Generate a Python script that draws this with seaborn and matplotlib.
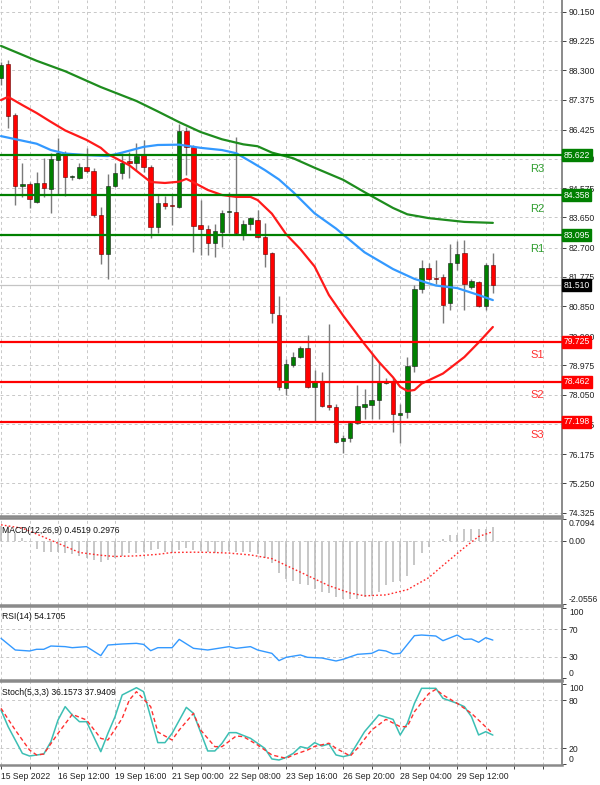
import matplotlib
matplotlib.use("Agg")
import matplotlib.pyplot as plt
import seaborn as sns
import pandas as pd
import numpy as np

# ---------------- data ----------------
OPEN = [88.06, 88.50, 86.89, 84.65, 84.71, 84.14, 84.74, 84.55, 85.47, 85.62,
        84.93, 84.90, 85.25, 85.12, 83.73, 82.50, 84.65, 85.06, 85.43, 85.37,
        85.62, 85.25, 83.35, 84.11, 84.01, 83.98, 86.38, 85.88, 83.41, 83.29,
        82.84, 83.19, 83.82, 83.82, 83.10, 83.45, 83.57, 83.03, 82.53, 80.57,
        78.27, 78.99, 79.24, 79.53, 78.30, 78.45, 77.73, 77.66, 76.59, 76.69,
        77.16, 77.66, 77.73, 77.89, 78.42, 78.49, 77.41, 77.51, 78.96, 81.39,
        82.06, 81.74, 81.77, 80.95, 82.21, 82.53, 81.46, 81.61, 80.85, 82.15]
HIGH = [88.56, 88.62, 86.95, 85.37, 84.77, 85.09, 85.53, 85.69, 86.16, 85.75,
        84.99, 85.37, 85.85, 85.21, 83.98, 85.02, 85.37, 85.69, 85.72, 86.00,
        86.10, 85.31, 84.36, 84.33, 84.36, 86.60, 86.51, 85.94, 84.20, 83.41,
        83.44, 83.89, 84.46, 86.20, 83.57, 83.67, 83.89, 83.48, 82.56, 81.17,
        79.18, 79.40, 79.59, 79.94, 78.83, 78.77, 80.29, 77.76, 76.78, 77.19,
        78.36, 78.23, 79.37, 79.09, 78.58, 78.58, 77.76, 79.24, 81.52, 82.31,
        82.21, 82.31, 81.87, 82.81, 82.91, 82.94, 81.71, 81.64, 82.21, 82.53]
LOW = [87.84, 86.48, 84.04, 84.30, 83.95, 84.11, 84.30, 83.79, 84.36, 84.33,
       84.83, 84.87, 85.06, 83.67, 82.18, 81.71, 84.61, 84.87, 84.90, 85.15,
       85.09, 83.00, 83.16, 83.92, 83.41, 83.95, 84.99, 82.56, 82.47, 82.47,
       82.40, 82.72, 83.16, 83.10, 82.94, 83.26, 83.00, 82.09, 80.32, 78.20,
       78.04, 78.93, 79.21, 78.27, 77.22, 77.66, 77.57, 76.53, 76.21, 76.56,
       77.13, 77.29, 77.29, 77.29, 78.39, 76.88, 76.53, 77.32, 78.77, 81.27,
       81.68, 81.55, 80.32, 80.73, 81.99, 80.73, 81.39, 80.82, 80.73, 81.27]
CLOSE = [88.47, 86.86, 84.65, 84.71, 84.23, 84.74, 84.58, 85.50, 85.69, 84.93,
         84.96, 85.25, 85.12, 83.73, 82.50, 84.65, 85.06, 85.37, 85.37, 85.59,
         85.25, 83.35, 84.11, 84.01, 84.00, 86.38, 85.88, 83.38, 83.29, 82.84,
         83.22, 83.79, 83.86, 83.16, 83.45, 83.63, 83.03, 82.50, 80.63, 78.30,
         79.02, 79.24, 79.53, 78.30, 78.45, 77.70, 77.66, 76.56, 76.69, 77.16,
         77.70, 77.76, 77.89, 78.45, 78.49, 77.44, 77.47, 78.96, 81.39, 82.06,
         81.71, 81.71, 80.89, 82.21, 82.50, 81.55, 81.64, 80.85, 82.15, 81.51]

MA_RED_IDX = [0, 1, 3, 5, 7, 9, 12, 14, 15, 18, 21, 23, 25, 26, 27, 29, 31, 33, 35, 36,
              38, 40, 42, 44, 46, 48, 51, 53, 55, 56, 57, 58, 59, 62, 65, 67, 69]
MA_RED = [87.36, 87.46, 87.20, 86.95, 86.67, 86.40, 86.10, 85.85, 85.65, 85.30, 84.77,
          84.74, 84.78, 84.87, 84.76, 84.52, 84.36, 84.30, 84.30, 84.20, 83.77, 83.12,
          82.65, 82.10, 81.20, 80.55, 79.65, 79.09, 78.60, 78.30, 78.17, 78.20, 78.40,
          78.72, 79.24, 79.70, 80.19]
MA_BLUE_IDX = [0, 5, 7, 9, 12, 15, 17, 20, 22, 25, 28, 31, 33, 35, 37, 39, 41, 44, 47,
               51, 55, 58, 61, 64, 67, 69]
MA_BLUE = [86.22, 85.98, 85.78, 85.67, 85.62, 85.59, 85.70, 85.88, 85.94, 85.95, 85.85,
           85.78, 85.68, 85.42, 85.15, 84.85, 84.45, 83.78, 83.30, 82.55, 82.02, 81.71,
           81.50, 81.42, 81.20, 81.04]
MA_GREEN_IDX = [0, 5, 9, 14, 19, 22, 25, 28, 31, 34, 36, 38, 41, 44, 48, 51, 53, 55,
                57, 60, 65, 69]
MA_GREEN = [89.07, 88.60, 88.27, 87.77, 87.33, 87.00, 86.66, 86.35, 86.12, 85.96, 85.90,
            85.70, 85.52, 85.22, 84.84, 84.45, 84.20, 83.95, 83.75, 83.63, 83.51, 83.48]

LEVEL_NAMES = ["R3", "R2", "R1", "S1", "S2", "S3"]
LEVELS = [85.622, 84.358, 83.095, 79.725, 78.462, 77.198]
LAST_PRICE = 81.510

PRICE_TICKS = [90.150, 89.225, 88.300, 87.375, 86.425, 85.500, 84.575, 83.650, 82.700,
               81.775, 80.850, 79.900, 78.975, 78.050, 77.125, 76.175, 75.250, 74.325]

MACD_HIST = [0.47, 0.47, 0.25, 0.10, -0.05, -0.27, -0.37, -0.38, -0.35, -0.40,
             -0.43, -0.50, -0.55, -0.62, -0.69, -0.62, -0.57, -0.48, -0.40, -0.40,
             -0.35, -0.31, -0.28, -0.35, -0.40, -0.31, -0.22, -0.30, -0.33, -0.38,
             -0.40, -0.38, -0.33, -0.35, -0.37, -0.38, -0.42, -0.55, -0.72, -1.05,
             -1.23, -1.32, -1.40, -1.45, -1.58, -1.65, -1.70, -1.83, -1.90, -1.88,
             -1.90, -1.83, -1.78, -1.65, -1.45, -1.35, -1.30, -1.15, -0.80, -0.40,
             -0.20, 0.00, 0.05, 0.18, 0.20, 0.40, 0.40, 0.40, 0.40, 0.4519]
MACD_SIG_IDX = [0, 3, 5, 8, 11, 14, 16, 19, 22, 24, 27, 30, 32, 35, 38, 40, 43, 46, 49,
                51, 54, 57, 60, 62, 65, 67, 69]
MACD_SIG = [0.52, 0.41, 0.22, -0.08, -0.38, -0.47, -0.51, -0.49, -0.44, -0.38, -0.37,
            -0.38, -0.40, -0.46, -0.58, -0.80, -1.13, -1.46, -1.70, -1.79, -1.76, -1.59,
            -1.20, -0.80, -0.22, 0.14, 0.2976]
MACD_TICKS = [0.7094, 0.00, -2.0556]
MACD_TICKLABELS = ["0.7094", "0.00", "-2.0556"]
MACD_TITLE = "MACD(12,26,9) 0.4519 0.2976"

RSI_IDX = [0, 2, 4, 5, 6, 7, 9, 10, 12, 14, 15, 17, 19, 20, 21, 22, 24, 25, 27, 29, 32,
           33, 35, 36, 38, 39, 40, 42, 43, 45, 47, 48, 50, 52, 53, 54, 55, 56, 58, 59,
           61, 62, 64, 65, 66, 67, 68, 69]
RSI = [56.7, 40.0, 38.6, 41.0, 41.0, 45.7, 44.8, 43.3, 44.8, 31.9, 47.1, 48.6, 49.5,
       48.0, 39.0, 43.3, 43.3, 55.2, 42.4, 40.0, 44.8, 42.4, 44.8, 40.0, 35.2, 24.8,
       29.5, 32.9, 29.5, 28.6, 24.3, 26.7, 33.8, 35.2, 40.0, 38.6, 34.3, 35.2, 60.5,
       61.4, 60.0, 53.3, 61.4, 55.2, 55.7, 51.0, 57.6, 54.1705]
RSI_TITLE = "RSI(14) 54.1705"

STO_K_IDX = [0, 1, 3, 4, 6, 7, 8, 9, 10, 11, 12, 14, 15, 16, 17, 19, 20, 22, 23, 24, 26,
             27, 29, 30, 31, 32, 33, 35, 37, 38, 39, 40, 41, 42, 43, 44, 45, 46, 47, 48,
             49, 51, 53, 55, 56, 57, 58, 59, 61, 62, 64, 65, 66, 67, 68, 69]
STO_K = [67.5, 46.7, 13.3, 10.0, 12.5, 27.9, 55.0, 71.7, 61.2, 52.9, 52.9, 15.4, 38.3,
         59.2, 86.3, 95.4, 90.4, 26.7, 26.7, 38.3, 70.8, 63.3, 16.3, 16.3, 25.8, 39.2,
         39.2, 32.1, 19.6, 6.3, 5.0, 8.3, 13.3, 21.7, 19.6, 26.7, 22.5, 25.0, 11.3, 9.2,
         11.3, 40.4, 61.3, 55.8, 36.3, 50.8, 75.8, 94.6, 94.6, 82.1, 75.8, 71.7, 59.2,
         36.3, 40.4, 36.1573]
STO_D_IDX = [0, 2, 4, 5, 6, 8, 10, 12, 14, 15, 17, 18, 19, 21, 22, 24, 25, 27, 28, 30,
             31, 33, 34, 36, 38, 40, 41, 43, 44, 45, 46, 47, 49, 50, 52, 54, 56, 57, 58,
             60, 61, 62, 64, 66, 69]
STO_D = [69.6, 42.5, 17.5, 11.3, 12.5, 38.3, 62.0, 55.0, 32.0, 30.0, 57.1, 80.0, 90.4,
         71.7, 40.0, 30.0, 42.5, 63.3, 42.5, 21.7, 21.7, 35.0, 34.2, 23.8, 11.3, 7.1,
         11.3, 17.5, 22.0, 24.0, 26.0, 19.6, 10.0, 19.6, 42.5, 55.8, 46.7, 46.7, 65.4,
         88.0, 93.3, 86.3, 75.8, 63.3, 37.9409]
STO_TITLE = "Stoch(5,3,3) 36.1573 37.9409"

X_LABELS = ["15 Sep 2022", "16 Sep 12:00", "19 Sep 16:00", "21 Sep 00:00", "22 Sep 08:00",
            "23 Sep 16:00", "26 Sep 20:00", "28 Sep 04:00", "29 Sep 12:00"]

# ---------------- style ----------------
sns.set_theme(style="white")
plt.rcParams['font.family'] = ['Liberation Sans', 'DejaVu Sans']
FS = 6.2
GRID = dict(color='#c8c8c8', linestyle=(0, (3, 3)), linewidth=0.7)
SEP = '#8a8a8a'

W, H = 600, 785
fig = plt.figure(figsize=(6, 7.85), dpi=100)
fig.patch.set_facecolor('white')


def add_ax(y0, y1):
    return fig.add_axes([0, 1 - y1 / H, 562 / W, (y1 - y0) / H])


ax = add_ax(0, 516)
ax_macd = add_ax(518, 605)
ax_rsi = add_ax(606, 680)
ax_sto = add_ax(681, 765)

XMIN, XMAX = -0.14, 78.7
n = len(CLOSE)
idx = np.arange(n)

for a in (ax, ax_macd, ax_rsi, ax_sto):
    a.set_facecolor('white')
    a.set_xlim(XMIN, XMAX)
    a.set_xticks(np.arange(0, 80, 4))
    a.xaxis.grid(True, **GRID)
    a.set_axisbelow(True)
    a.yaxis.tick_right()
    a.tick_params(axis='y', which='both', direction='out', length=3, width=0.6,
                  labelsize=FS, pad=2, colors='#222222', right=True, left=False)
    a.spines['left'].set_visible(False)
    a.spines['right'].set_color('#777777')
    a.spines['right'].set_linewidth(1.2)
    a.spines['top'].set_color(SEP)
    a.spines['bottom'].set_color(SEP)
    a.spines['top'].set_linewidth(1.8)
    a.spines['bottom'].set_linewidth(1.8)
    if a is not ax_sto:
        a.tick_params(axis='x', which='both', bottom=False, labelbottom=False)
ax.spines['top'].set_visible(False)

# ---------------- main price panel ----------------
ax.set_ylim(74.22, 90.52)
ax.set_yticks(PRICE_TICKS)
ax.set_yticklabels([f"{t:.3f}" for t in PRICE_TICKS])
ax.yaxis.grid(True, **GRID)

# current price line
ax.axhline(LAST_PRICE, color='#c4c4c4', lw=0.9, zorder=1)

# candles
o = np.array(OPEN); c = np.array(CLOSE); h = np.array(HIGH); l = np.array(LOW)
up = c >= o
ax.vlines(idx, l, h, color='#7a7a7a', lw=1.0, zorder=3)
body_lo = np.minimum(o, c)
body_h = np.maximum(np.abs(c - o), 0.035)
ax.bar(idx[up], body_h[up], bottom=body_lo[up], width=0.62, color='#008000',
       edgecolor='#1a1a1a', linewidth=0.4, zorder=4)
ax.bar(idx[~up], body_h[~up], bottom=body_lo[~up], width=0.62, color='#ff0000',
       edgecolor='#5a0000', linewidth=0.4, zorder=4)

# moving averages
sns.lineplot(x=MA_GREEN_IDX, y=MA_GREEN, ax=ax, color='#1e8c1e', lw=1.6, legend=False,
             zorder=5)
sns.lineplot(x=MA_BLUE_IDX, y=MA_BLUE, ax=ax, color='#3399ff', lw=1.6, legend=False,
             zorder=5)
sns.lineplot(x=MA_RED_IDX, y=MA_RED, ax=ax, color='#ff1a1a', lw=1.6, legend=False,
             zorder=5)

# support / resistance levels
for name, lev in zip(LEVEL_NAMES, LEVELS):
    col = '#008000' if name.startswith('R') else '#ff0000'
    tcol = '#2f9f2f' if name.startswith('R') else '#ff3030'
    ax.axhline(lev, color=col, lw=1.6, zorder=6)
    ax.text(75.2, lev - 0.43, name, color=tcol, fontsize=8, ha='center', va='center',
            zorder=7)
    ax.text(1.003, lev, f"{lev:.3f}", transform=ax.get_yaxis_transform(), ha='left',
            va='center', fontsize=FS, color='white', zorder=10, clip_on=False,
            bbox=dict(boxstyle='square,pad=0.18', fc=col, ec=col))
ax.text(1.003, LAST_PRICE, f"{LAST_PRICE:.3f}", transform=ax.get_yaxis_transform(),
        ha='left', va='center', fontsize=FS, color='white', zorder=10, clip_on=False,
        bbox=dict(boxstyle='square,pad=0.18', fc='black', ec='black'))

# ---------------- MACD ----------------
ax_macd.set_ylim(-2.088, 0.742)
ax_macd.vlines(idx, 0, MACD_HIST, color='#b8b8b8', lw=1.1, zorder=2)
ax_macd.axhline(0, **GRID)
sns.lineplot(x=MACD_SIG_IDX, y=MACD_SIG, ax=ax_macd, color='#ff2a2a', lw=1.0,
             linestyle=(0, (1.2, 1.6)), legend=False, zorder=3)
ax_macd.set_yticks(MACD_TICKS)
ax_macd.set_yticklabels(MACD_TICKLABELS)
tl = ax_macd.get_yticklabels()
tl[0].set_va('top'); tl[2].set_va('bottom')
ax_macd.text(0.004, 0.86, MACD_TITLE, transform=ax_macd.transAxes, fontsize=FS,
             color='#111111', va='center', zorder=6)

# ---------------- RSI ----------------
ax_rsi.set_ylim(-2.9, 102.9)
for lv in (70, 30):
    ax_rsi.axhline(lv, **GRID)
sns.lineplot(x=RSI_IDX, y=RSI, ax=ax_rsi, color='#3399ff', lw=1.0, legend=False)
ax_rsi.set_yticks([100, 70, 30, 0])
ax_rsi.set_yticklabels(["100", "70", "30", "0"])
tl = ax_rsi.get_yticklabels()
tl[0].set_va('top'); tl[3].set_va('bottom')
ax_rsi.text(0.004, 0.86, RSI_TITLE, transform=ax_rsi.transAxes,
            fontsize=FS, color='#111111', va='center')

# ---------------- Stochastic ----------------
ax_sto.set_ylim(-1.25, 103.75)
for lv in (80, 20):
    ax_sto.axhline(lv, **GRID)
sns.lineplot(x=STO_K_IDX, y=STO_K, ax=ax_sto, color='#3cbfb4', lw=1.1, legend=False)
sns.lineplot(x=STO_D_IDX, y=STO_D, ax=ax_sto, color='#ff3030', lw=1.0,
             linestyle=(0, (3, 2)), legend=False)
ax_sto.set_yticks([100, 80, 20, 0])
ax_sto.set_yticklabels(["100", "80", "20", "0"])
tl = ax_sto.get_yticklabels()
tl[0].set_va('top'); tl[3].set_va('bottom')
ax_sto.text(0.004, 0.86, STO_TITLE, transform=ax_sto.transAxes, fontsize=FS,
            color='#111111', va='center')

xt = np.arange(0, 80, 4)
ax_sto.set_xticks(xt)
labels = []
for t in xt:
    k = t // 8
    labels.append(X_LABELS[k] if (t % 8 == 0 and k < len(X_LABELS)) else "")
ax_sto.set_xticklabels(labels)
ax_sto.tick_params(axis='x', which='both', bottom=True, length=3, width=0.6,
                   labelsize=FS, pad=2, colors='#222222')
for lab in ax_sto.get_xticklabels():
    lab.set_ha('left')

for a in (ax, ax_macd, ax_rsi, ax_sto):
    a.set_xlabel(""); a.set_ylabel("")

fig.savefig("out.png", dpi=100, facecolor='white')
